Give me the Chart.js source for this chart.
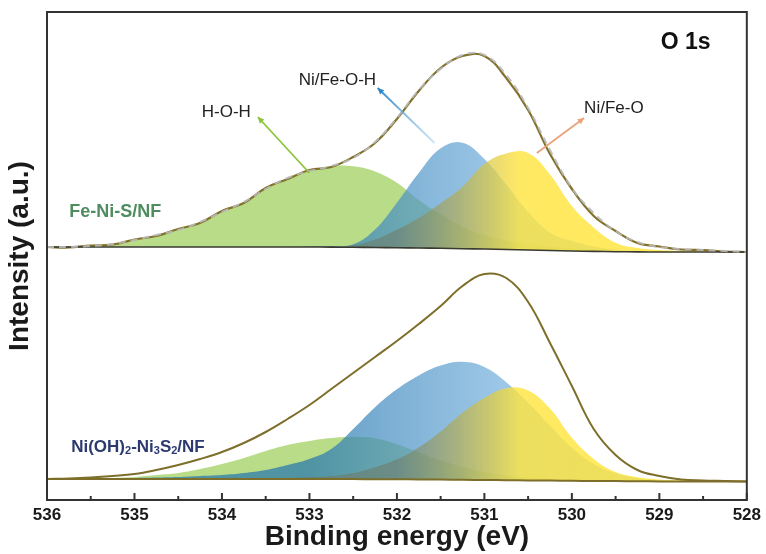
<!DOCTYPE html>
<html>
<head>
<meta charset="UTF-8">
<title>O 1s</title>
<script src="https://cdn.jsdelivr.net/npm/chart.js"></script>
<style>
    html, body { margin: 0; padding: 0; background: #ffffff; }
    .chart-box { position: relative; width: 766px; height: 554px; }
</style>
</head>
<body>
<div class="chart-box"><canvas id="xpsCanvas" width="766" height="554"></canvas></div>
<script>

// binding energy grid (eV), read every 0.25 eV
var energy = [536, 535.75, 535.5, 535.25, 535, 534.75, 534.5, 534.25, 534, 533.75, 533.5,
              533.25, 533, 532.75, 532.5, 532.25, 532, 531.75, 531.5, 531.25, 531, 530.75,
              530.5, 530.25, 530, 529.75, 529.5, 529.25, 529, 528.75, 528.5, 528.25, 528];
var xTicks = [536, 535, 534, 533, 532, 531, 530, 529, 528];

// vertical offsets of the two stacked spectra (a.u.)
var TOP_BASE = 248;
var BOTTOM_BASE = 18;

// Fe-Ni-S/NF (top)
var topBackground = [5, 5, 5, 5, 5, 5, 5, 5, 5, 5, 5, 5, 5, 4.9, 4.7, 4.5, 4.3, 4, 3.7, 3.3, 3,
                     2.5, 2, 1.5, 1, 0.6, 0.3, 0.1, 0, 0, 0, 0, 0];
var topRaw = [5, 4.5, 6.5, 7.5, 12.5, 16, 23, 29, 41, 49, 64, 73, 82, 85, 95, 109, 133, 161, 184,
              196, 196, 174, 142, 98, 63, 36, 21, 9, 5.5, 2.5, 2, 0.5, 0];
var topFit = [5, 5, 6, 8, 12, 17, 22, 30, 40, 50, 63, 74, 81, 86, 94, 110, 134, 162, 183, 197,
              197, 177, 144, 102, 64, 39, 21, 10, 5, 3, 2, 1, 0];
var topHOH = [0, 0, 1, 3, 7, 12, 17, 25, 35, 45, 58, 69, 76, 81, 81, 76, 65, 48, 34, 22, 14, 9,
              6, 4, 2.5, 1.5, 1, 0.5, 0.3, 0, 0, 0, 0];
var topOH = [0, 0, 0, 0, 0, 0, 0, 0, 0, 0, 0, 0, 0.5, 1, 3, 18, 45, 75, 100, 106, 90, 65, 38, 18,
             10, 5, 2, 1, 0.5, 0, 0, 0, 0];
var topMO = [0, 0, 0, 0, 0, 0, 0, 0, 0, 0, 0, 0, 0, 0, 2, 8, 18, 30, 45, 62, 85, 96, 97, 76, 45,
             24, 9, 4, 2, 1, 0.5, 0, 0];

// Ni(OH)2-Ni3S2/NF (bottom)
var bottomBackground = [3, 3, 3, 3, 3, 3, 3, 3, 3, 3, 3, 3, 3, 2.95, 2.9, 2.8, 2.7, 2.55, 2.4, 2.2,
                        2, 1.8, 1.6, 1.4, 1.2, 1.05, 0.9, 0.75, 0.6, 0.55, 0.5, 0.5, 0.5];
var bottomEnvelope = [3, 3.5, 4.5, 6, 8, 12, 17, 23, 30, 39, 50, 63, 77, 93, 109, 125, 141, 158,
                      176, 196, 208, 204, 180, 139, 96, 53, 27, 12, 6, 2.5, 1.5, 1, 0.5];
var bottomHOH = [0, 0, 0.5, 1, 2, 4, 6, 10, 15, 21, 28, 34, 38, 41, 42, 41, 35, 27, 19, 13, 8, 5,
                 3, 2, 1, 0.5, 0.3, 0, 0, 0, 0, 0, 0];
var bottomOH = [0, 0, 0.5, 0.5, 1, 1.5, 2, 3, 4, 6, 9, 14, 20, 30, 50, 72, 90, 104, 114, 118, 113,
                98, 78, 55, 33, 17, 8, 3, 1, 0, 0, 0, 0];
var bottomMO = [0, 0, 0, 0, 0, 0, 0, 0, 0, 0, 0, 1, 2, 3, 6, 12, 20, 32, 48, 67, 82, 92, 90, 72,
                43, 22, 9, 4, 2, 1, 0.5, 0, 0];

// build {x,y} points: offset + optional background + values
function pts(base, bg, vals) {
    return energy.map(function (e, i) {
        return { x: e, y: base + (bg ? bg[i] : 0) + vals[i] };
    });
}

// horizontal gradient along the energy axis
function xGradient(stops) {
    return function (context) {
        var chart = context.chart;
        if (!chart.chartArea) return stops[0][1];
        var xs = chart.scales.x;
        var x0 = xs.getPixelForValue(stops[0][0]);
        var x1 = xs.getPixelForValue(stops[stops.length - 1][0]);
        var g = chart.ctx.createLinearGradient(x0, 0, x1, 0);
        stops.forEach(function (s) {
            g.addColorStop((s[0] - stops[0][0]) / (stops[stops.length - 1][0] - stops[0][0]), s[1]);
        });
        return g;
    };
}

var greenFill = 'rgba(155,205,85,0.70)';
var blueFill = xGradient([[533, 'rgba(40,120,175,0.72)'], [530.5, 'rgba(120,180,225,0.68)']]);
var yellowFill = xGradient([[532, 'rgba(110,120,100,0.55)'], [530.6, 'rgba(255,228,60,0.80)'], [528, 'rgba(255,230,60,0.85)']]);

function peak(data, target, color, order) {
    return { data: data, fill: { target: target }, backgroundColor: color, borderWidth: 0,
             pointRadius: 0, tension: 0.4, order: order };
}
function line(data, color, width, dash, order) {
    return { data: data, fill: false, borderColor: color, borderWidth: width, borderDash: dash || [],
             pointRadius: 0, tension: 0.4, order: order };
}

var datasets = [
    line(pts(TOP_BASE, null, topBackground), '#3a3a30', 1.6, null, 1),      // 0
    peak(pts(TOP_BASE, topBackground, topHOH), 0, greenFill, 4),             // 1
    peak(pts(TOP_BASE, topBackground, topOH), 0, blueFill, 3),               // 2
    peak(pts(TOP_BASE, topBackground, topMO), 0, yellowFill, 2),             // 3
    line(pts(TOP_BASE, null, topRaw), '#82722a', 2.2, null, 1),              // 4
    line(pts(TOP_BASE, null, topFit), 'rgba(185,185,185,0.9)', 2, [7, 5], 0),// 5
    line(pts(BOTTOM_BASE, null, bottomBackground), '#7d6f2a', 2, null, 1),   // 6
    peak(pts(BOTTOM_BASE, bottomBackground, bottomHOH), 6, greenFill, 4),    // 7
    peak(pts(BOTTOM_BASE, bottomBackground, bottomOH), 6, blueFill, 3),      // 8
    peak(pts(BOTTOM_BASE, bottomBackground, bottomMO), 6, yellowFill, 2),    // 9
    line(pts(BOTTOM_BASE, null, bottomEnvelope), '#7d6f2a', 2, null, 1)      // 10
];

// labels / arrows placed in data coordinates
var notes = [
    { text: 'O 1s', x: 528.7, y: 457, font: 'bold 23px "Liberation Sans", Arial', color: '#111' },
    { text: 'H-O-H', x: 533.95, y: 388, font: '17px "Liberation Sans", Arial', color: '#222' },
    { text: 'Ni/Fe-O-H', x: 532.68, y: 420, font: '17px "Liberation Sans", Arial', color: '#222' },
    { text: 'Ni/Fe-O', x: 529.52, y: 392, font: '17px "Liberation Sans", Arial', color: '#222' },
    { text: 'Fe-Ni-S/NF', x: 535.22, y: 288, font: 'bold 18px "Liberation Sans", Arial', color: '#4f8c60' }
];
var arrows = [
    { from: [533.0, 327], to: [533.59, 383], c0: '#8cc43c', c1: '#8cc43c' },
    { from: [531.57, 357], to: [532.22, 412], c0: 'rgba(170,210,235,0.6)', c1: '#2f86c8' },
    { from: [530.40, 347], to: [529.86, 382], c0: '#e9a27a', c1: '#e9a27a' }
];

var decorPlugin = {
    id: 'decor',
    afterDatasetsDraw: function (chart) {
        var ctx = chart.ctx, a = chart.chartArea, xs = chart.scales.x, ys = chart.scales.y;
        ctx.save();

        // frame
        ctx.strokeStyle = '#333333';
        ctx.lineWidth = 2;
        ctx.strokeRect(a.left, a.top, a.right - a.left, a.bottom - a.top);

        // inward ticks, major + minor
        for (var e = 528; e <= 536; e += 0.5) {
            var px = xs.getPixelForValue(e);
            var len = (e % 1 === 0) ? 7 : 4;
            ctx.beginPath();
            ctx.moveTo(px, a.bottom);
            ctx.lineTo(px, a.bottom - len);
            ctx.stroke();
        }

        // arrows
        arrows.forEach(function (ar) {
            var x1 = xs.getPixelForValue(ar.from[0]), y1 = ys.getPixelForValue(ar.from[1]);
            var x2 = xs.getPixelForValue(ar.to[0]), y2 = ys.getPixelForValue(ar.to[1]);
            var g = ctx.createLinearGradient(x1, y1, x2, y2);
            g.addColorStop(0, ar.c0);
            g.addColorStop(1, ar.c1);
            ctx.strokeStyle = g;
            ctx.lineWidth = 1.8;
            ctx.beginPath();
            ctx.moveTo(x1, y1);
            ctx.lineTo(x2, y2);
            ctx.stroke();
            var ang = Math.atan2(y2 - y1, x2 - x1), s = 7;
            ctx.fillStyle = ar.c1;
            ctx.beginPath();
            ctx.moveTo(x2, y2);
            ctx.lineTo(x2 - s * Math.cos(ang - 0.45), y2 - s * Math.sin(ang - 0.45));
            ctx.lineTo(x2 - s * Math.cos(ang + 0.45), y2 - s * Math.sin(ang + 0.45));
            ctx.closePath();
            ctx.fill();
        });

        // text labels
        ctx.textAlign = 'center';
        ctx.textBaseline = 'middle';
        notes.forEach(function (n) {
            ctx.font = n.font;
            ctx.fillStyle = n.color;
            ctx.fillText(n.text, xs.getPixelForValue(n.x), ys.getPixelForValue(n.y));
        });

        // Ni(OH)2-Ni3S2/NF with subscripts
        var parts = [['Ni(OH)', 0], ['2', 1], ['-Ni', 0], ['3', 1], ['S', 0], ['2', 1], ['/NF', 0]];
        var big = 'bold 17px "Liberation Sans", Arial', small = 'bold 11px "Liberation Sans", Arial';
        var total = 0;
        parts.forEach(function (p) { ctx.font = p[1] ? small : big; total += ctx.measureText(p[0]).width; });
        var cx = xs.getPixelForValue(534.96) - total / 2, cy = ys.getPixelForValue(53);
        ctx.textAlign = 'left';
        ctx.fillStyle = '#2c3a70';
        parts.forEach(function (p) {
            ctx.font = p[1] ? small : big;
            ctx.fillText(p[0], cx, cy + (p[1] ? 4 : 0));
            cx += ctx.measureText(p[0]).width;
        });
        ctx.restore();
    }
};

new Chart(document.getElementById('xpsCanvas'), {
    type: 'line',
    data: { datasets: datasets },
    options: {
        responsive: false,
        animation: false,
        layout: { padding: { top: 12, right: 18, left: 0, bottom: 0 } },
        plugins: { legend: { display: false }, tooltip: { enabled: false } },
        scales: {
            x: {
                type: 'linear',
                min: 528,
                max: 536,
                reverse: true,
                afterBuildTicks: function (s) { s.ticks = xTicks.map(function (v) { return { value: v }; }); },
                afterFit: function (s) { s.height = 54; },
                grid: { display: false, drawTicks: false },
                border: { display: false },
                ticks: { color: '#1a1a1a', padding: 5, maxRotation: 0,
                         font: { family: '"Liberation Sans", Arial', size: 17, weight: 'bold' },
                         callback: function (v) { return String(v); } },
                title: { display: true, text: 'Binding energy (eV)', color: '#1a1a1a',
                         padding: { top: 0, bottom: 0 },
                         font: { family: '"Liberation Sans", Arial', size: 28, weight: 'bold' } }
            },
            y: {
                min: 0,
                max: 488,
                afterFit: function (s) { s.width = 47; },
                grid: { display: false, drawTicks: false },
                border: { display: false },
                ticks: { display: false },
                title: { display: true, text: 'Intensity (a.u.)', color: '#1a1a1a',
                         padding: { top: 3, bottom: 0 },
                         font: { family: '"Liberation Sans", Arial', size: 28, weight: 'bold' } }
            }
        }
    },
    plugins: [decorPlugin]
});

</script>
</body>
</html>
